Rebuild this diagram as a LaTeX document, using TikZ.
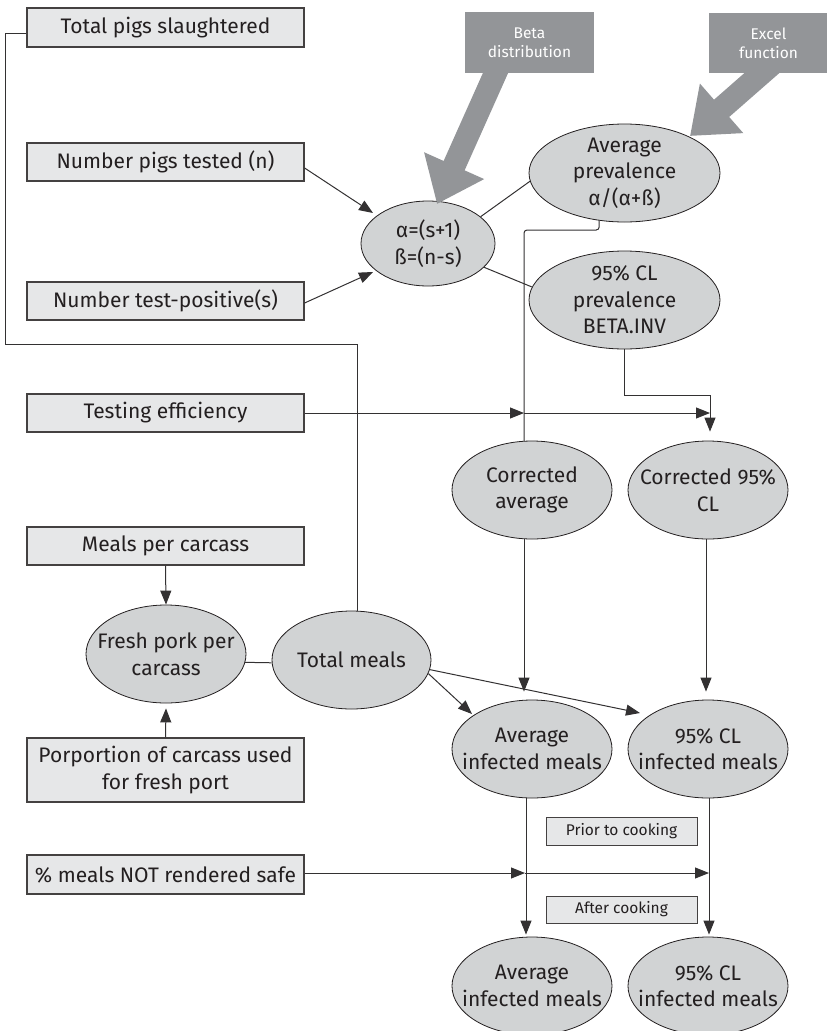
\documentclass[tikz,border=0pt]{standalone}
\usepackage{fontspec}
\setmainfont{Fira Sans}
\usetikzlibrary{shapes.geometric,arrows.meta,calc}
\definecolor{boxfill}{HTML}{E6E7E8}
\definecolor{ellfill}{HTML}{D1D3D4}
\definecolor{notefill}{HTML}{939598}
\definecolor{ink}{HTML}{231F20}
\definecolor{wirecol}{HTML}{333132}
\newcommand\mainsize{\fontsize{21}{26.5}\selectfont}
\newcommand\notesize{\fontsize{15.5}{19}\selectfont}
\begin{document}
\begin{tikzpicture}[x=1pt,y=-1pt,
  every node/.style={text=ink, align=center, inner sep=0pt},
  inbox/.style={rectangle, draw=ink!85, line width=1.2pt, fill=boxfill,
    minimum width=277pt, minimum height=38pt, font=\mainsize},
  % fixed-size ellipse; its text is a centred label so it never resizes the shape
  stage/.style={ellipse, draw=ink, line width=0.8pt, fill=ellfill,
    minimum width=160pt, minimum height=98pt,
    label={[align=center, font=\mainsize, text=ink, inner sep=0pt]center:#1}},
  note/.style={rectangle, fill=notefill, text=white, font=\notesize},
  tag/.style={rectangle, draw=ink!85, line width=1pt, fill=boxfill,
    minimum width=151pt, minimum height=28pt, font=\notesize},
  wire/.style={draw=wirecol, line width=1pt},
  arr/.style={wire, -{Triangle[length=14pt,width=11pt]}},
  bigarrow/.style={draw=notefill, line width=23pt, -{Triangle[length=42pt,width=63pt]}}
]
\useasboundingbox (0,0) rectangle (827,1031);

% input boxes
\node[inbox, minimum height=39pt] (tps) at (165.5,27.5) {Total pigs slaughtered};
\node[inbox] (npt) at (165.5,162) {Number pigs tested (n)};
\node[inbox] (ntp) at (165.5,301) {Number test-positive(s)};
\node[inbox] (te)  at (165.5,413) {Testing efficiency};
\node[inbox] (mpc) at (165.5,546) {Meals per carcass};
\node[inbox, minimum height=64pt] (pcu) at (165.5,770) {Porportion of carcass used\\for fresh port};
\node[inbox, minimum height=39pt] (mnr) at (165.5,874.5) {\% meals NOT rendered safe};

% calculation stages
\node[stage={α=(s+1)\\ß=(n-s)}, minimum width=134pt, minimum height=85pt] (ab) at (428,243.5) {};
\node[stage={Average\\prevalence\\α/(α+ß)}, minimum width=191pt] (avgp) at (624.5,173) {};
\node[stage={95\% CL\\prevalence\\BETA.INV}, minimum width=191pt] (clp) at (624.5,300) {};
\node[stage={Corrected\\average}] (ca)  at (532,490) {};
\node[stage={Corrected 95\%\\CL}] (c95) at (708,490) {};
\node[stage={Fresh pork per\\carcass}] (fpc) at (166,654) {};
\node[stage={Total meals}, minimum width=159pt] (tm) at (351.5,660) {};
\node[stage={Average\\infected meals}] (aim) at (532,749) {};
\node[stage={95\% CL\\infected meals}] (cim) at (708,749) {};
\node[stage={Average\\infected meals}] (aim2) at (532,986) {};
\node[stage={95\% CL\\infected meals}] (cim2) at (708,986) {};

% stage tags
\node[tag] (prior) at (621.5,831) {Prior to cooking};
\node[tag, minimum height=27pt] (after) at (621.5,909.5) {After cooking};

% method notes with their wide arrows
\node[note, minimum width=129pt, minimum height=61pt] (beta) at (529.5,42.5) {};
\node[note, minimum width=119pt, minimum height=60pt] (excel) at (768.5,43) {};
\draw[bigarrow] ($(beta.center)+(-25.5,11.5)$) -- ($(ab.center)+(9,-39.5)$);
\draw[bigarrow] ($(excel.center)+(8.5,16.8)$) -- ($(avgp.center)+(65.5,-37)$);
\node[note, minimum width=129pt, minimum height=61pt] at (beta) {Beta\\distribution};
\node[note, minimum width=119pt, minimum height=60pt] at (excel) {Excel\\function};

% junction points on the vertical flows
\coordinate (j1) at (524,413);
\coordinate (j2) at (710,413);
\coordinate (j3) at (525,873);
\coordinate (j4) at (709,873);

% connectors
\draw[wire] ([yshift=-5.5pt]tps.west) -- ++(-21,0) |- (357,344) -- ($(tm.north)+(5.5,0.3)$);
\draw[arr] ([yshift=-6pt]npt.east) -- ($(ab.center)+(-55,-30.5)$);
\draw[arr] ([yshift=-2pt]ntp.east) -- ($(ab.center)+(-55,28.5)$);
\draw[wire] (ab.27) -- (avgp.185.6);
\draw[wire] (ab.-23) -- (clp.172.5);
\draw[wire, rounded corners=3pt] (avgp.242.7) |- (524,230) -- ($(ca.north)+(-8,0.3)$);
\draw[arr] (clp.south) |- (710,395) -- ($(c95.north)+(2,-9)$);
\draw[arr] (te.east) -- (j1);
\draw[arr] (j1) -- (j2);
\draw[arr] ($(ca.south)+(-8,0)$) -- ($(aim.north)+(-8,-8)$);
\draw[arr] ($(c95.south)+(-2,0)$) -- ($(cim.north)+(-2,-8)$);
\draw[arr] (mpc.south) -- (fpc.north);
\draw[arr] (pcu.north) -- ($(fpc.south)+(0,5)$);
\draw[wire] (fpc.-6.5) -- (tm.182.2);
\draw[arr] (tm.-10.6) -- ($(aim.center)+(-60,-35)$);
\draw[arr] (tm.-7.3) -- ($(cim.center)+(-68,-36)$);
\draw[arr] ($(aim.south)+(-6,0)$) -- ($(aim2.north)+(-6,-2)$);
\draw[arr] ($(cim.south)+(1,0)$) -- ($(cim2.north)+(1,-2)$);
\draw[arr] ([yshift=1.5pt]mnr.east) -- (j3);
\draw[arr] (j3) -- (j4);
\end{tikzpicture}
\end{document}
